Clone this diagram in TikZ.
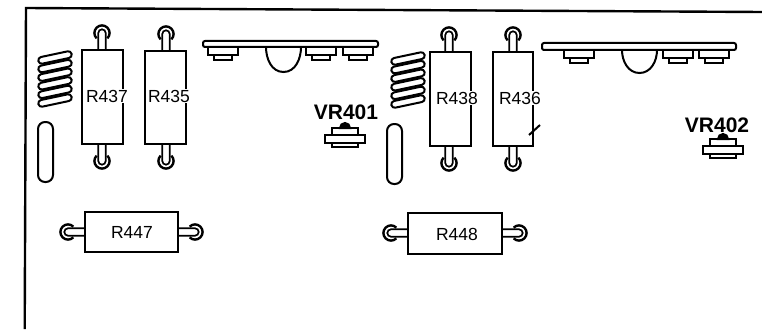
\documentclass[tikz,border=0pt]{standalone}
\usepackage{fontspec}
\setmainfont{Liberation Sans}
\usetikzlibrary{calc}

\tikzset{
  wire/.style={line width=2pt,black},
  thinwire/.style={line width=1.7pt,black},
  reslabel/.style={fill=white,inner sep=0.5pt,font=\fontsize{17.5}{18}\selectfont},
  vrlabel/.style={inner sep=0pt,font=\fontsize{21}{22}\selectfont\bfseries},
  pics/lead/.style={code={
    \draw[thinwire] (0,-3.7) -- (17,-3.7) arc[start angle=-90,end angle=90,radius=3.7] -- (0,3.7);
    \draw[wire,line width=2.4pt] (17,0) ++(-135:7.6) arc[start angle=-135,end angle=135,radius=7.6];
  }},
  pics/coil/.style={code={
    \foreach \yy in {-21.5,-12.9,-4.3,4.3,12.9,21.5}
      \draw[wire,fill=white,rounded corners=3.4pt,rotate around={12:(0,\yy)}]
        (-17,\yy-3.4) rectangle (17,\yy+3.4);
  }},
  pics/slot/.style={code={
    \draw[wire,rounded corners=7pt] (-7.5,-30) rectangle (7.5,30);
  }},
  pics/foot/.style={code={
    \draw[wire] (-15,0) -- (-15,8) -- (15,8) -- (15,0);
    \draw[wire] (-9,8) -- (-9,13) -- (9,13) -- (9,8);
  }},
  pics/vr/.style={code={
    \draw[wire,fill=black] (-5,-8) arc[start angle=180,end angle=360,radius=5] -- cycle;
    \draw[wire] (-13,-1) -- (-13,-8) -- (13,-8) -- (13,-1);
    \draw[wire] (-20,-1) rectangle (20,7);
    \draw[wire] (-13,7) -- (-13,11) -- (13,11) -- (13,7);
  }},
}

\begin{document}
\begin{tikzpicture}[x=1pt,y=-1pt]
  \useasboundingbox (0,0) rectangle (762,329);

  % frame
  \coordinate (FA) at (24.7,329);
  \coordinate (FB) at (26,8);
  \coordinate (FC) at (762,12);
  \draw[wire,line width=2.4pt] (FA) -- (FB) -- (FC);

  % left group
  \pic at (55,79) {coil};
  \pic at (45.5,152) {slot};

  \pic[rotate=90] at (102,50) {lead};
  \pic[rotate=-90] at (102,144) {lead};
  \draw[wire,fill=white] (82,50) rectangle (123,144);
  \node[reslabel] (R437) at (107,96) {R437};

  \pic[rotate=90] at (166,51) {lead};
  \pic[rotate=-90] at (166,144) {lead};
  \draw[wire,fill=white] (145,51) rectangle (186,144);
  \node[reslabel] (R435) at (169,96) {R435};

  \pic[rotate=180] at (85,232) {lead};
  \pic at (178,232) {lead};
  \draw[wire,fill=white] (85,212) rectangle (178,252);
  \node[reslabel] (R447) at (132,232) {R447};

  % first rail
  \pic at (222.5,47) {foot};
  \pic at (321,47) {foot};
  \pic at (358,47) {foot};
  \draw[wire] (266,47) to[out=-90,in=180] (283.5,72) to[out=0,in=-90] (301,47);
  \draw[wire,fill=white,rounded corners=2pt] (203,41) rectangle (378,47);

  \node[vrlabel] (VR401) at (346,112) {VR401};
  \pic at (345,136) {vr};

  % right group
  \pic at (408,80) {coil};
  \pic at (394.5,154) {slot};

  \pic[rotate=90] at (449,52) {lead};
  \pic[rotate=-90] at (449,146) {lead};
  \draw[wire,fill=white] (430,52) rectangle (471,146);
  \node[reslabel] (R438) at (457,98) {R438};

  \pic[rotate=90] at (513,52) {lead};
  \pic[rotate=-90] at (513,146) {lead};
  \draw[wire,fill=white] (493,52) rectangle (533,146);
  \node[reslabel] (R436) at (520,98) {R436};
  \draw[wire] (529,135) -- (540,125);

  \pic[rotate=180] at (408,233) {lead};
  \pic at (502,233) {lead};
  \draw[wire,fill=white] (408,213) rectangle (502,254);
  \node[reslabel] (R448) at (457,234) {R448};

  % second rail
  \pic at (578.5,50) {foot};
  \pic at (677.5,50) {foot};
  \pic at (714,50) {foot};
  \draw[wire] (622,50) to[out=-90,in=180] (639.5,73) to[out=0,in=-90] (657,50);
  \draw[wire,fill=white,rounded corners=2pt] (542,43) rectangle (736,50);

  \node[vrlabel] (VR402) at (717,125) {VR402};
  \pic at (723,147) {vr};
\end{tikzpicture}
\end{document}
